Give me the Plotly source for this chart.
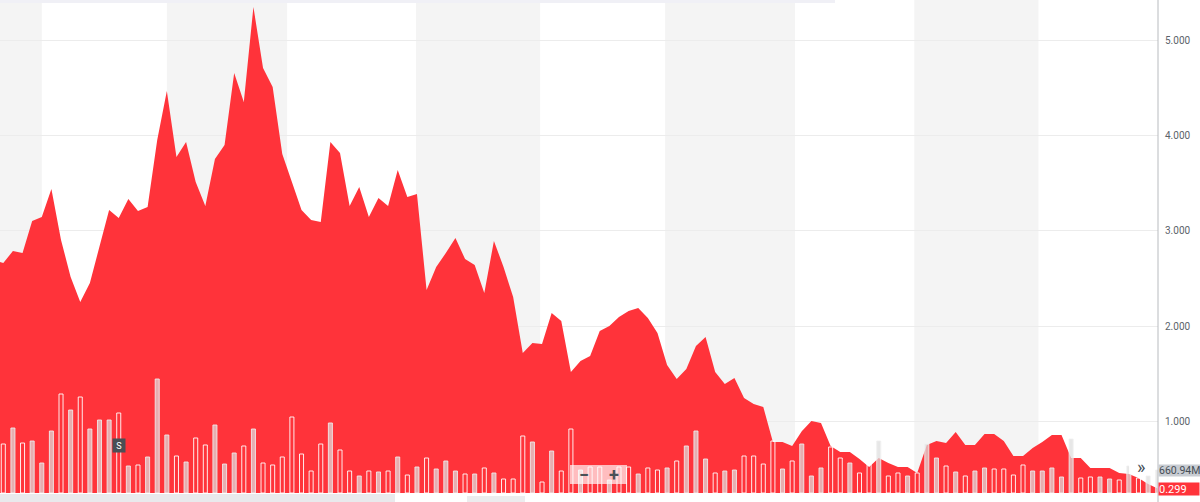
import plotly.graph_objects as go

# ---- data ----
prices = [
    2.694, 2.663, 2.789, 2.768, 3.104, 3.146, 3.439, 2.905, 2.517, 2.255, 2.454,
    2.852, 3.219, 3.135, 3.334, 3.209, 3.251, 3.953, 4.467, 3.775, 3.932,
    3.513, 3.261, 3.754, 3.900, 4.655, 4.351, 5.347, 4.708, 4.508, 3.806,
    3.513, 3.219, 3.114, 3.093, 3.932, 3.817, 3.261, 3.460, 3.146, 3.345,
    3.261, 3.638, 3.355, 3.387, 2.381, 2.622, 2.768, 2.926, 2.705, 2.643,
    2.349, 2.894, 2.622, 2.307, 1.720, 1.825, 1.815, 2.139, 2.056, 1.521,
    1.636, 1.689, 1.951, 2.003, 2.097, 2.160, 2.192, 2.086, 1.930, 1.594,
    1.448, 1.552, 1.794, 1.888, 1.521, 1.395, 1.458, 1.248, 1.186, 1.153,
    0.787, 0.787, 0.744, 0.901, 1.006, 0.985, 0.744, 0.682, 0.682, 0.609,
    0.525, 0.619, 0.567, 0.525, 0.525, 0.462, 0.756, 0.798, 0.777, 0.892,
    0.756, 0.756, 0.871, 0.871, 0.798, 0.640, 0.640, 0.724, 0.787, 0.861,
    0.861, 0.619, 0.619, 0.515, 0.515, 0.515, 0.462, 0.452, 0.410, 0.347, 0.299,
]

# volume in millions (first point is off-screen, no bar)
volumes = [None,
    1408, 1868, 1437, 1494, 862, 1782, 2845, 2385, 2759, 1839,
    2098, 2098, 2299, 776, 805, 1035, 3276, 1667, 1063, 891,
    1581, 1380, 1954, 833, 1150, 1351, 1839, 862, 805, 1035,
    2184, 1121, 632, 1408, 2012, 1236, 632, 489, 632, 604,
    632, 1035, 517, 747, 1006, 690, 920, 632, 546, 546,
    719, 575, 402, 402, 1638, 1466, 316, 1207, 632, 1839,
    661, 747, 747, 374, 747, 747, 546, 719, 661, 719,
    920, 1351, 1782, 977, 575, 632, 661, 1063, 1063, 833,
    1494, 690, 920, 1408, 489, 719, 1322, 1006, 862, 575,
    977, 1494, 489, 575, 489, 575, 1408, 1006, 776, 604,
    489, 632, 719, 690, 690, 517, 805, 632, 632, 719,
    460, 1552, 431, 460, 460, 402, 374, 776, 431, 489, 660.94,
]

# bar style per point: H = hollow, F = filled
bar_kind = [None] + list(
    "HFHFFFHFHF"
    "FFHFHFFFHF"
    "HHFFFHFHHH"
    "HHHHFHHFHF"
    "HFHFHFFFHF"
    "HFHHHFHFHH"
    "FHHFHHFHHF"
    "HFFFHFFHHH"
    "HFHFFFHHFH"
    "HFHHFHFFHF"
    "HFFHHHHFFF"
    "FFHHFFHFHFF"
)

band_edges = [(None, 5.0), (18.0, 30.5), (43.9, 56.8), (69.8, 83.3), (95.7, 108.6)]
y_ticks = [1, 2, 3, 4, 5]
split_index = 13
last_price = 0.299
last_volume = 660.94

idx = list(range(len(prices)))
x_range = [0.657, 121.03]
y_range = [0.2526, 5.420]
v_range = [0, 14169]

RED = "#ff333a"

fig = go.Figure()
fig.add_trace(go.Scatter(
    x=idx, y=prices, mode="lines", line=dict(width=0, color=RED),
    fill="tozeroy", fillcolor=RED, hoverinfo="skip", showlegend=False,
))

hx = [i for i in idx if bar_kind[i] == "H"]
hv = [volumes[i] for i in hx]
fx = [i for i in idx if bar_kind[i] == "F"]
fv = [volumes[i] for i in fx]

fig.add_trace(go.Bar(
    x=hx, y=hv, yaxis="y2", width=0.42, showlegend=False, hoverinfo="skip",
    marker=dict(color="rgba(0,0,0,0)", line=dict(color="rgba(255,255,255,0.9)", width=1)),
))
fig.add_trace(go.Bar(
    x=fx, y=fv, yaxis="y2", width=0.42, showlegend=False, hoverinfo="skip",
    marker=dict(color="rgba(222,222,222,0.72)", line=dict(color="rgba(240,240,240,0.85)", width=1)),
))

shapes = []
for a, b in band_edges:
    shapes.append(dict(type="rect", xref="x", yref="paper",
                       x0=x_range[0] if a is None else a, x1=b, y0=0, y1=1,
                       fillcolor="#f4f4f4", line=dict(width=0), layer="below"))
# top thin strip
shapes.append(dict(type="rect", xref="paper", yref="paper", x0=0, x1=835/1158,
                   y0=(493-3)/493, y1=1, fillcolor="#f0f0f6", line=dict(width=0), layer="below"))
# bottom strips (navigator)
shapes.append(dict(type="rect", xref="paper", yref="paper", x0=0, x1=395/1158,
                   y0=-9/493, y1=-1/493, fillcolor="#e9e9ec", line=dict(width=0)))
shapes.append(dict(type="rect", xref="paper", yref="paper", x0=467/1158, x1=525/1158,
                   y0=-9/493, y1=-3/493, fillcolor="#ececee", line=dict(width=0)))
# right axis line
shapes.append(dict(type="line", xref="paper", yref="paper", x0=1, x1=1,
                   y0=-9/493, y1=1, line=dict(color="#b8bbbf", width=1)))
# zoom buttons
shapes.append(dict(type="rect", xref="paper", yref="paper", x0=570/1158, x1=627/1158,
                   y0=(493-484)/493, y1=(493-465)/493,
                   fillcolor="rgba(255,255,255,0.68)", line=dict(width=0)))
# >> button
shapes.append(dict(type="rect", xref="paper", yref="paper", x0=1129/1158, x1=1152/1158,
                   y0=(493-474)/493, y1=(493-457)/493,
                   fillcolor="rgba(255,255,255,0.92)", line=dict(width=0)))

annotations = [
    dict(x=split_index, xref="x", y=(493-445.5)/493, yref="paper", text="S",
         xanchor="center", yanchor="middle",
         showarrow=False, bgcolor="#4a4f55", font=dict(color="white", size=9, family="Roboto"),
         width=12, height=13, borderpad=0),
    dict(x=584/1158, xref="paper", y=(493-474.5)/493, yref="paper", text="<b>−</b>",
         xanchor="center", yanchor="middle",
         showarrow=False, font=dict(color="#4b5157", size=18, family="Roboto")),
    dict(x=614/1158, xref="paper", y=(493-474.5)/493, yref="paper", text="<b>+</b>",
         xanchor="center", yanchor="middle",
         showarrow=False, font=dict(color="#4b5157", size=18, family="Roboto")),
    dict(x=1140.5/1158, xref="paper", y=(493-466)/493, yref="paper", text="»",
         xanchor="center", yanchor="middle",
         showarrow=False, font=dict(color="#464e56", size=18, family="Roboto")),
    dict(x=1, xref="paper", xanchor="left", y=last_volume, yref="y2", yanchor="middle",
         text="660.94M",
         showarrow=False, bgcolor="#c8ccd2", font=dict(color="#464e56", size=10.5, family="Roboto"),
         width=42, height=11, align="left", borderpad=0),
    dict(x=1, xref="paper", xanchor="left", y=last_price, yref="y", yanchor="middle",
         text="%.3f" % last_price,
         showarrow=False, bgcolor=RED, font=dict(color="white", size=11, family="Roboto"),
         width=40, height=12, align="left", borderpad=0),
]

fig.update_layout(
    width=1200, height=502,
    margin=dict(l=0, r=42, t=0, b=9),
    paper_bgcolor="white", plot_bgcolor="white",
    barmode="overlay", hovermode=False, showlegend=False,
    xaxis=dict(range=x_range, showgrid=False, zeroline=False, showline=False,
               showticklabels=False, ticks="", fixedrange=True),
    yaxis=dict(range=y_range, side="right", tickvals=y_ticks,
               ticktext=["%.3f" % t for t in y_ticks], gridcolor="#ececec", gridwidth=1,
               zeroline=False, showline=False, ticks="", ticklabelstandoff=6,
               tickfont=dict(size=10, color="#5b636a", family="Roboto"), fixedrange=True),
    yaxis2=dict(range=v_range, overlaying="y", visible=False, fixedrange=True),
    shapes=shapes,
    annotations=annotations,
)

fig.write_html(
    "out.html",
    config={"displayModeBar": False},
    post_script="document.body.style.margin='0';document.body.style.overflow='hidden';",
)
